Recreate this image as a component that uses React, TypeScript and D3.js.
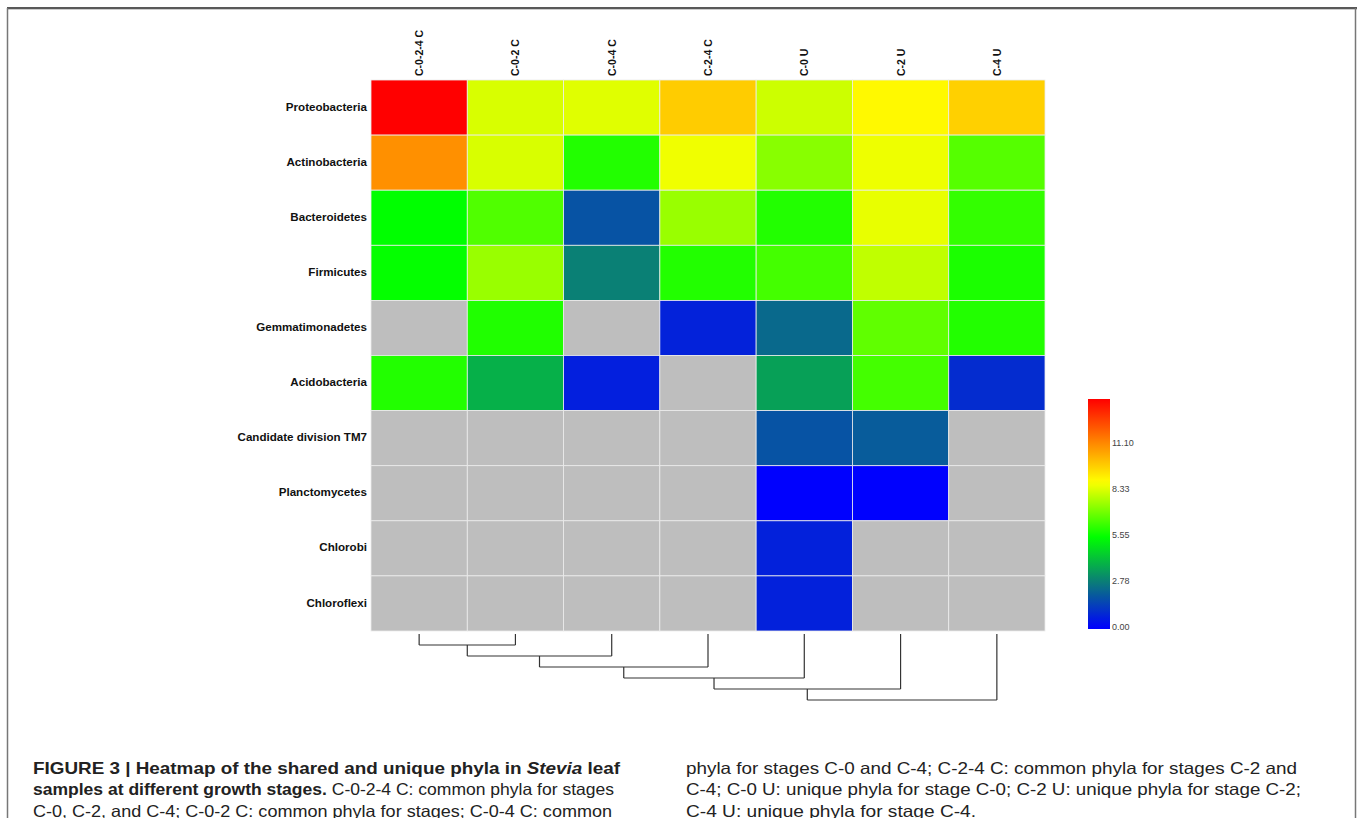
import React from "react";
import * as d3 from "d3";

const phyla = [
  "Proteobacteria",
  "Actinobacteria",
  "Bacteroidetes",
  "Firmicutes",
  "Gemmatimonadetes",
  "Acidobacteria",
  "Candidate division TM7",
  "Planctomycetes",
  "Chlorobi",
  "Chloroflexi",
];

const groups = ["C-0-2-4 C", "C-0-2 C", "C-0-4 C", "C-2-4 C", "C-0 U", "C-2 U", "C-4 U"];

// values per phylum, one per group (null = absent, drawn gray)
const vProteobacteria = [13.88, 8.37, 8.48, 9.88, 8.21, 9.0, 9.8];
const vActinobacteria = [11.06, 8.37, 5.99, 8.68, 7.33, 8.66, 6.66];
const vBacteroidetes = [5.55, 6.6, 1.9, 7.55, 6.0, 8.58, 6.22];
const vFirmicutes = [5.6, 7.55, 2.9, 6.0, 6.44, 8.06, 5.9];
const vGemmatimonadetes = [null, 5.97, null, 0.77, 2.4, 6.8, 6.0];
const vAcidobacteria = [6.0, 3.9, 0.7, null, 3.57, 6.44, 1.0];
const vTM7 = [null, null, null, null, 1.9, 2.1, null];
const vPlanctomycetes = [null, null, null, null, 0.02, 0.02, null];
const vChlorobi = [null, null, null, null, 0.75, null, null];
const vChloroflexi = [null, null, null, null, 0.75, null, null];

const matrix: (number | null)[][] = [
  vProteobacteria,
  vActinobacteria,
  vBacteroidetes,
  vFirmicutes,
  vGemmatimonadetes,
  vAcidobacteria,
  vTM7,
  vPlanctomycetes,
  vChlorobi,
  vChloroflexi,
];

const legendTicks = [0, 2.78, 5.55, 8.33, 11.1];
const legendMax = 13.88;

// dendrogram: leaves joined successively in column order, merge heights
const mergeHeights = [1, 2, 3, 4, 5, 6];

const captionLeft = [
  { parts: [{ t: "FIGURE 3 | Heatmap of the shared and unique phyla in ", w: "bold" }, { t: "Stevia", w: "bold", i: true }, { t: " leaf", w: "bold" }], len: 587 },
  { parts: [{ t: "samples at different growth stages.", w: "bold" }, { t: " C-0-2-4 C: common phyla for stages", w: "normal" }], len: 581 },
  { parts: [{ t: "C-0, C-2, and C-4; C-0-2 C: common phyla for stages; C-0-4 C: common", w: "normal" }], len: 579 },
];
const captionRight = [
  { parts: [{ t: "phyla for stages C-0 and C-4; C-2-4 C: common phyla for stages C-2 and", w: "normal" }], len: 611 },
  { parts: [{ t: "C-4; C-0 U: unique phyla for stage C-0; C-2 U: unique phyla for stage C-2;", w: "normal" }], len: 615 },
  { parts: [{ t: "C-4 U: unique phyla for stage C-4.", w: "normal" }], len: 290 },
];

const W = 1357;
const H = 818;

export default function App() {
  const x = d3.scaleBand<string>().domain(groups).range([371, 1045]);
  const y = d3.scaleBand<string>().domain(phyla).range([80, 631]);
  const color = d3
    .scaleLinear<string>()
    .domain([0, 2.78, 5.55, 8.88, 13.88])
    .range(["#0000ff", "#0a7a7a", "#00ff00", "#ffff00", "#ff0000"])
    .interpolate(d3.interpolateRgb)
    .clamp(true);
  const ly = d3.scaleLinear().domain([0, legendMax]).range([629, 399]);
  const dy = d3.scaleLinear().domain([0, 6]).range([634, 700]);

  const leafX = groups.map((g) => (x(g) as number) + x.bandwidth() / 2);
  const segs: { x1: number; y1: number; x2: number; y2: number }[] = [];
  let curX = leafX[0];
  let curH = 0;
  mergeHeights.forEach((h, i) => {
    const rx = leafX[i + 1];
    segs.push({ x1: curX, y1: dy(curH), x2: curX, y2: dy(h) });
    segs.push({ x1: rx, y1: dy(0), x2: rx, y2: dy(h) });
    segs.push({ x1: curX, y1: dy(h), x2: rx, y2: dy(h) });
    curX = (curX + rx) / 2;
    curH = h;
  });

  const gradStops = d3.range(0, 41).map((i) => {
    const v = (legendMax * i) / 40;
    return { off: (i / 40) * 100, c: color(v) };
  });

  const font = "'Liberation Sans', Arial, Helvetica, sans-serif";
  const capFont = "'Liberation Sans Narrow', 'Liberation Sans', Arial, sans-serif";

  return (
    <div style={{ position: "absolute", left: 0, top: 0 }}>
      <svg width={W} height={H} style={{ display: "block", background: "#fff" }}>
        <defs>
          <linearGradient id="lg" x1="0" y1="1" x2="0" y2="0">
            {gradStops.map((s, i) => (
              <stop key={i} offset={`${s.off}%`} stopColor={s.c} />
            ))}
          </linearGradient>
        </defs>
        {/* frame */}
        <line x1={7} y1={8} x2={W} y2={8} stroke="#222" strokeWidth={1.5} />
        <line x1={7} y1={9.5} x2={W} y2={9.5} stroke="#ccc" strokeWidth={1} />
        <line x1={7.5} y1={8} x2={7.5} y2={H} stroke="#777" strokeWidth={1.5} />
        <line x1={1355.5} y1={8} x2={1355.5} y2={H} stroke="#777" strokeWidth={1.5} />

        {/* cells */}
        {matrix.map((row, ri) =>
          row.map((v, ci) => (
            <rect
              key={`${ri}-${ci}`}
              x={x(groups[ci])}
              y={y(phyla[ri])}
              width={x.bandwidth()}
              height={y.bandwidth()}
              fill={v === null ? "#bebebe" : color(v)}
              stroke="#ececec"
              strokeWidth={0.8}
            />
          ))
        )}

        {/* row labels */}
        {phyla.map((p) => (
          <text
            key={p}
            x={367}
            y={(y(p) as number) + y.bandwidth() / 2}
            textAnchor="end"
            dominantBaseline="middle"
            fontFamily={font}
            fontWeight="bold"
            fontSize={11.6}
            fill="#111"
          >
            {p}
          </text>
        ))}

        {/* column labels */}
        {groups.map((g) => (
          <text
            key={g}
            transform={`translate(${(x(g) as number) + x.bandwidth() / 2 + 4},76) rotate(-90)`}
            textAnchor="start"
            fontFamily={font}
            fontWeight="bold"
            fontSize={10.5}
            fill="#111"
          >
            {g}
          </text>
        ))}

        {/* dendrogram */}
        {segs.map((s, i) => (
          <line key={i} x1={s.x1} y1={s.y1} x2={s.x2} y2={s.y2} stroke="#333" strokeWidth={1.2} />
        ))}

        {/* legend */}
        <rect x={1088} y={ly(legendMax)} width={22} height={ly(0) - ly(legendMax)} fill="url(#lg)" />
        {legendTicks.map((t) => (
          <text key={t} x={1112} y={ly(t) + 1} fontFamily={font} fontSize={9} fill="#444">
            {t.toFixed(2)}
          </text>
        ))}

        {/* caption */}
        {captionLeft.map((ln, i) => (
          <text
            key={`l${i}`}
            x={33}
            y={773.5 + i * 21.5}
            fontFamily={capFont}
            fontSize={16.5}
            fill="#222"
            textLength={ln.len}
            lengthAdjust="spacingAndGlyphs"
          >
            {ln.parts.map((p, j) => (
              <tspan key={j} fontWeight={p.w} fontStyle={(p as any).i ? "italic" : "normal"}>
                {p.t}
              </tspan>
            ))}
          </text>
        ))}
        {captionRight.map((ln, i) => (
          <text
            key={`r${i}`}
            x={686}
            y={773.5 + i * 21.5}
            fontFamily={capFont}
            fontSize={16.5}
            fill="#222"
            textLength={ln.len}
            lengthAdjust="spacingAndGlyphs"
          >
            {ln.parts.map((p, j) => (
              <tspan key={j} fontWeight={p.w}>
                {p.t}
              </tspan>
            ))}
          </text>
        ))}
      </svg>
    </div>
  );
}
